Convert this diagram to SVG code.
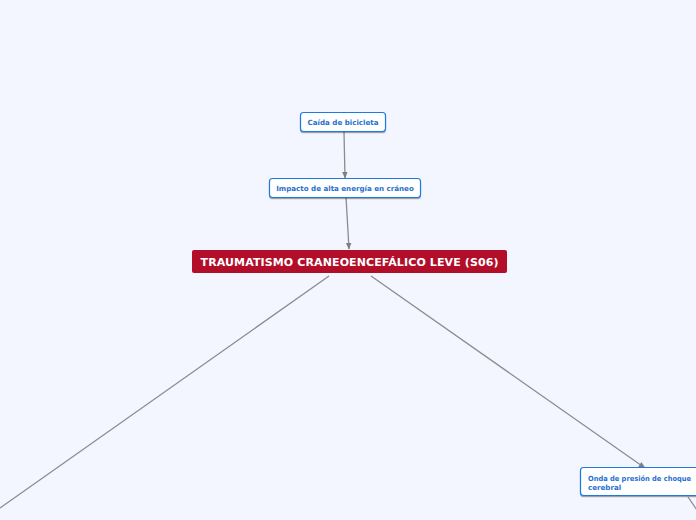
<svg xmlns="http://www.w3.org/2000/svg" width="696" height="520" viewBox="0 0 696 520">
<defs>
<marker id="arr" viewBox="0 0 10 10" refX="9" refY="5" markerWidth="7" markerHeight="7" orient="auto" markerUnits="userSpaceOnUse">
<path d="M0,1 L10,5 L0,9 Z" fill="#7d7f85"/>
</marker>
<filter id="sh" x="-10%" y="-20%" width="120%" height="150%">
<feDropShadow dx="0" dy="1.2" stdDeviation="0.6" flood-color="#000" flood-opacity="0.35"/>
</filter>
</defs>
<style>
.bg{fill:#f3f6fe}
.node rect{fill:#ffffff;stroke:#1f7ae0;stroke-width:1.2}
.node text{font-family:"DejaVu Sans",Verdana,sans-serif;font-weight:bold;font-size:7.1px;fill:#1f6fd0}
.root rect{fill:#b20e2a}
.root text{font-family:"DejaVu Sans",Verdana,sans-serif;font-weight:bold;font-size:11px;fill:#ffffff}
.conn line{stroke:#8a8c92;stroke-width:1.3;fill:none}
</style>
<rect class="bg" x="0" y="0" width="696" height="520"/>
<g class="conn">
<line x1="344" y1="132" x2="345" y2="178" marker-end="url(#arr)"/>
<line x1="346" y1="197" x2="349" y2="249" marker-end="url(#arr)"/>
<line x1="329" y1="276" x2="0" y2="508"/>
<line x1="371" y1="276" x2="645" y2="468" marker-end="url(#arr)"/>
<line x1="688" y1="497" x2="697" y2="510"/>
</g>
<g id="n-caida" class="node">
<rect x="300.5" y="112.5" width="85" height="19" rx="3" filter="url(#sh)"/>
<text x="343" y="125" text-anchor="middle">Caída de bicicleta</text>
</g>
<g id="n-impacto" class="node">
<rect x="269.5" y="178.5" width="151" height="19" rx="3" filter="url(#sh)"/>
<text x="345" y="191" text-anchor="middle">Impacto de alta energía en cráneo</text>
</g>
<g id="n-root" class="root">
<rect x="192" y="250" width="315" height="23" rx="2"/>
<text x="349.5" y="266" text-anchor="middle" textLength="298" lengthAdjust="spacing">TRAUMATISMO CRANEOENCEFÁLICO LEVE (S06)</text>
</g>
<g id="n-onda" class="node">
<rect x="580.5" y="467.5" width="130" height="28" rx="3" filter="url(#sh)"/>
<text x="588" y="480.5" textLength="103" lengthAdjust="spacingAndGlyphs">Onda de presión de choque</text>
<text x="588" y="489.5">cerebral</text>
</g>
</svg>
